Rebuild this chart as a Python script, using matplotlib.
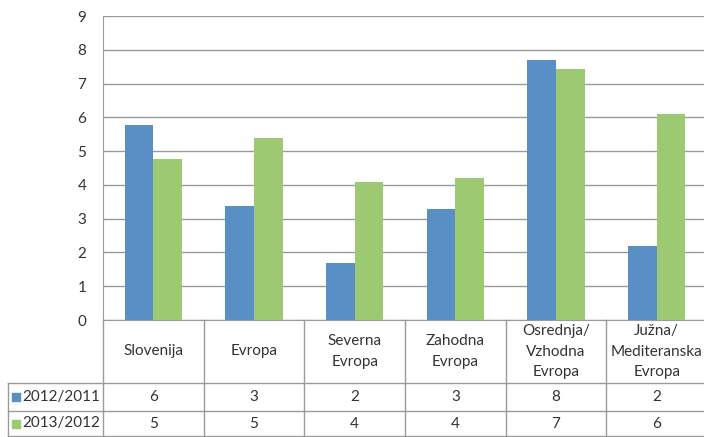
import matplotlib.pyplot as plt
import numpy as np

plt.rcParams['font.family'] = ['Lato', 'DejaVu Sans']

categories = ['Slovenija', 'Evropa', 'Severna\nEvropa', 'Zahodna\nEvropa',
              'Osrednja/\nVzhodna\nEvropa', 'Južna/\nMediteranska\nEvropa']
series_names = ['2012/2011', '2013/2012']
values_2012 = [5.76, 3.37, 1.68, 3.28, 7.69, 2.20]
values_2013 = [4.76, 5.39, 4.09, 4.21, 7.42, 6.09]
table_2012 = ['6', '3', '2', '3', '8', '2']
table_2013 = ['5', '5', '4', '4', '7', '6']

blue = '#5a8fc6'
green = '#9cc971'
line_c = '#9a9a9a'
text_c = '#333333'
fs = 11

fig = plt.figure(figsize=(7.04, 4.37), dpi=100)
ax = fig.add_axes([103 / 704, 117 / 437, 604 / 704, 304 / 437])

x = np.arange(len(categories))
w = 0.285
ax.bar(x - w / 2, values_2012, w, color=blue, zorder=3)
ax.bar(x + w / 2, values_2013, w, color=green, zorder=3)

ax.set_xlim(-0.5, len(categories) - 0.5)
ax.set_ylim(0, 9)
ax.set_yticks(range(10))
ax.yaxis.grid(True, color=line_c, lw=1, zorder=0)
ax.tick_params(axis='y', length=0, pad=12, labelsize=fs, labelcolor=text_c)
ax.set_xticks([])
for s in ['top', 'right']:
    ax.spines[s].set_visible(False)
ax.spines['left'].set_color(line_c)
ax.spines['bottom'].set_color(line_c)

# data table below the axis (units: data x, data y)
px = 304 / 9  # pixels per y unit
row1 = -(383 - 320) / px
row2 = -(411 - 320) / px
row3 = -(436 - 320) / px
left = -0.5 - (103 - 8) / 101
n = len(categories)

kw = dict(color=line_c, lw=1, clip_on=False, zorder=1)
for b in range(n + 1):
    ax.plot([b - 0.5, b - 0.5], [0, row3], **kw)
ax.plot([left, left], [row1, row3], **kw)
for yy in [row1, row2, row3]:
    ax.plot([left, n - 0.5], [yy, yy], **kw)

for i, cat in enumerate(categories):
    ax.text(i, row1 / 2, cat, ha='center', va='center', fontsize=fs,
            color=text_c, linespacing=1.55, clip_on=False)
    ax.text(i, (row1 + row2) / 2, table_2012[i], ha='center', va='center',
            fontsize=fs, color=text_c)
    ax.text(i, (row2 + row3) / 2, table_2013[i], ha='center', va='center',
            fontsize=fs, color=text_c)

for yy, name, c in [((row1 + row2) / 2, series_names[0], blue),
                    ((row2 + row3) / 2, series_names[1], green)]:
    ax.scatter([left + 0.08], [yy], marker='s', s=28, color=c, clip_on=False)
    ax.text(left + 0.14, yy, name, ha='left', va='center', fontsize=fs,
            color=text_c)

fig.savefig('out.png', dpi=100)
